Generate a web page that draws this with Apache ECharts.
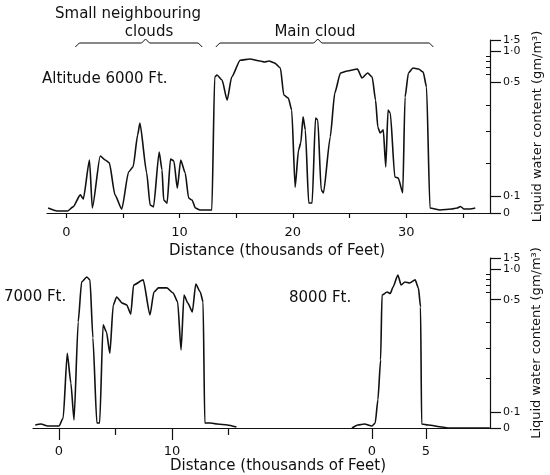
<!DOCTYPE html>
<html>
<head>
<meta charset="utf-8">
<title>Liquid water content</title>
<script src="https://cdn.jsdelivr.net/npm/echarts@6/dist/echarts.min.js"></script>
<style>
html, body { margin: 0; padding: 0; background: #fff; }
#main { width: 550px; height: 475px; }
</style>
</head>
<body>
<div id="main"></div>
<script>
// distance in thousands of feet, liquid water content in gm/m3
let dist6000 = [-1.6, -0.8, 0.1, 0.6, 1.24, 1.5, 2.05, 2.3, 3.0, 3.44, 3.8, 4.3, 4.9, 5.5, 5.9, 6.3, 6.5, 7.1, 7.4, 7.7,
	8.2, 8.45, 8.6, 8.9, 9.2, 9.5, 9.8, 10.1, 10.5, 10.8, 11.1, 11.4, 11.8, 12.7, 12.85, 13.1, 13.3, 13.75, 14.2, 14.6,
	15.35, 16.2, 17.1, 17.5, 17.9, 18.4, 18.9, 19.2, 19.6, 19.9, 20.2, 20.5, 20.7, 20.9, 21.1, 21.4, 21.7, 22.0, 22.2, 22.5,
	22.7, 23.3, 23.7, 24.2, 24.8, 25.7, 26.1, 26.6, 27.0, 27.3, 27.5, 27.7, 27.98, 28.2, 28.4, 28.6, 29.0, 29.3, 29.7, 29.9,
	30.2, 30.6, 31.1, 31.5, 31.8, 32.1, 33.0, 34.0, 34.5, 34.8, 35.1, 35.6, 36.1];
let lwc6000 = [0.03, 0.012, 0.012, 0.037, 0.105, 0.085, 0.209, 0.03, 0.222, 0.209, 0.2, 0.105, 0.024, 0.173, 0.188, 0.289, 0.333, 0.17, 0.049, 0.037,
	0.235, 0.179, 0.079, 0.06, 0.212, 0.206, 0.125, 0.209, 0.17, 0.091, 0.079, 0.03, 0.018, 0.018, 0.018, 0.569, 0.595, 0.53, 0.424, 0.569,
	0.826, 0.85, 0.813, 0.795, 0.813, 0.776, 0.695, 0.446, 0.433, 0.383, 0.128, 0.241, 0.264, 0.357, 0.307, 0.061, 0.061, 0.353, 0.345, 0.12,
	0.111, 0.283, 0.455, 0.623, 0.652, 0.68, 0.556, 0.623, 0.569, 0.424, 0.318, 0.296, 0.307, 0.188, 0.383, 0.372, 0.158, 0.155, 0.111, 0.437,
	0.623, 0.695, 0.68, 0.638, 0.48, 0.03, 0.018, 0.024, 0.03, 0.04, 0.024, 0.024, 0.03];

let dist7000 = [-2.1, -1.6, -1.0, 0.0, 0.37, 0.73, 1.05, 1.33, 1.7, 2.0, 2.46, 2.74, 3.0, 3.35, 3.6, 3.9, 4.2, 4.5, 4.8, 5.1,
	5.6, 6.0, 6.35, 6.6, 7.45, 8.05, 8.4, 8.8, 9.55, 10.1, 10.5, 10.8, 11.06, 11.4, 11.8, 12.1, 12.5, 12.75, 12.9, 13.4,
	14.0, 14.9, 15.7];
let lwc7000 = [0.019, 0.025, 0.012, 0.012, 0.062, 0.283, 0.187, 0.05, 0.403, 0.754, 0.843, 0.789, 0.34, 0.031, 0.031, 0.391, 0.363, 0.283, 0.477, 0.535,
	0.485, 0.477, 0.437, 0.703, 0.789, 0.433, 0.6, 0.66, 0.66, 0.587, 0.49, 0.294, 0.56, 0.485, 0.446, 0.72, 0.6, 0.49, 0.031, 0.031,
	0.025, 0.019, 0.006];

let dist8000 = [-1.85, -1.3, -0.7, 0.0, 0.3, 0.55, 0.8, 0.93, 1.4, 1.7, 1.95, 2.4, 2.7, 3.05, 3.5, 4.0, 4.3, 4.5, 4.6, 5.2,
	6.5, 7.0, 10.9];
let lwc8000 = [0, 0.019, 0.025, 0.012, 0.031, 0.136, 0.261, 0.56, 0.6, 0.58, 0.673, 0.883, 0.703, 0.754, 0.737, 0.789, 0.66, 0.468, 0.025, 0.019,
	0.006, 0, 0];

// instrument scale: water content -> fraction of the scale height
let calLwc = [0, 0.1, 0.2, 0.3, 0.4, 0.5, 0.6, 0.7, 0.8, 0.9, 1.0, 1.5];
let calPos = [0, 0.095, 0.29, 0.47, 0.62, 0.755, 0.80, 0.84, 0.875, 0.905, 0.935, 1.0];

let majorLwc = [0, 0.1, 0.5, 1.0, 1.5];
let majorText = ['0', '0·1', '0·5', '1·0', '1·5'];
let minorLwc = [0.2, 0.3, 0.4, 0.6, 0.7, 0.8, 0.9];

let ink = '#111';
let font = 'DejaVu Sans';

function toScale(v) {
	for (let i = 1; i < calLwc.length; i++) {
		if (v <= calLwc[i]) {
			let t = (v - calLwc[i - 1]) / (calLwc[i] - calLwc[i - 1]);
			return calPos[i - 1] + t * (calPos[i] - calPos[i - 1]);
		}
	}
	return 1;
}

function pairs(d, w) {
	return d.map(function (x, i) { return [x, toScale(w[i])]; });
}

function lwcLabel(v) {
	for (let i = 0; i < majorLwc.length; i++) {
		if (Math.abs(toScale(majorLwc[i]) - v) < 1e-6) return majorText[i];
	}
	return '';
}

function lwcAxes(grid) {
	return [{
		gridIndex: grid, type: 'value', min: 0, max: 1, position: 'right',
		name: 'Liquid water content (gm/m³)', nameLocation: 'middle', nameRotate: 90, nameGap: 40,
		nameTextStyle: { color: ink, fontFamily: font, fontSize: 13 },
		axisLine: { show: true, onZero: false, lineStyle: { color: ink, width: 1.2 } },
		axisTick: { show: true, inside: false, length: 11, customValues: majorLwc.map(toScale), lineStyle: { color: ink, width: 1.2 } },
		axisLabel: { show: true, margin: 13, hideOverlap: false, customValues: majorLwc.map(toScale), formatter: lwcLabel,
			color: ink, fontFamily: font, fontSize: 11 },
		splitLine: { show: false }
	}, {
		gridIndex: grid, type: 'value', min: 0, max: 1, position: 'right',
		axisLine: { show: false, onZero: false },
		axisTick: { show: true, inside: true, length: 4, customValues: minorLwc.map(toScale), lineStyle: { color: ink, width: 1 } },
		axisLabel: { show: false },
		splitLine: { show: false }
	}];
}

function distAxis(grid, min, max, labels, ticks, tickLen, gap, showLine) {
	return {
		gridIndex: grid, type: 'value', min: min, max: max, position: 'bottom',
		axisLine: { show: showLine, onZero: false, lineStyle: { color: ink, width: 1.2 } },
		axisTick: { show: true, length: tickLen, customValues: ticks, lineStyle: { color: ink, width: 1.2 } },
		axisLabel: { show: labels.length > 0, margin: gap, customValues: labels, color: ink, fontFamily: font, fontSize: 13 },
		splitLine: { show: false }
	};
}

function trace(xi, yi, data) {
	return {
		type: 'line', xAxisIndex: xi, yAxisIndex: yi, data: data,
		showSymbol: false, smooth: 0.2, smoothMonotone: 'x',
		lineStyle: { color: ink, width: 1.6 }
	};
}

function txt(s, x, y, align) {
	return { type: 'text', style: { text: s, x: x, y: y, fill: ink, font: '15px "' + font + '"',
		textAlign: align || 'left', textVerticalAlign: 'middle' } };
}

let chart = echarts.init(document.getElementById('main'));

let option = {
	animation: false,
	backgroundColor: '#fff',
	grid: [
		{ left: 47, right: 60, top: 40, height: 173, outerBoundsMode: 'none' },
		{ left: 33, width: 257, top: 258, height: 170, outerBoundsMode: 'none' },
		{ left: 290, width: 200, top: 258, height: 170, outerBoundsMode: 'none' }
	],
	xAxis: [
		distAxis(0, -1.7, 37.4, [0, 10, 20, 30], [0, 5, 10, 15, 20, 25, 30, 35], 5, 13, true),
		distAxis(1, -2.3, 20.44, [0, 10], [0, 10], 12, 17, true),
		distAxis(1, -2.3, 20.44, [], [5, 15], 7, 12, false),
		distAxis(2, -7.59, 10.93, [0, 5], [0, 5], 11, 17, true)
	],
	yAxis: lwcAxes(0).concat([
		{ gridIndex: 1, type: 'value', min: 0, max: 1, show: false }
	]).concat(lwcAxes(2)),
	series: [
		trace(0, 0, pairs(dist6000, lwc6000)),
		trace(1, 2, pairs(dist7000, lwc7000)),
		trace(3, 3, pairs(dist8000, lwc8000))
	]
};
chart.setOption(option);

// braces over the top trace, placed on the distance scale
function brace(x0, xm, x1, y) {
	let a = chart.convertToPixel({ xAxisIndex: 0 }, x0);
	let m = chart.convertToPixel({ xAxisIndex: 0 }, xm);
	let b = chart.convertToPixel({ xAxisIndex: 0 }, x1);
	return { type: 'polyline', shape: { points: [[a, y + 4], [a + 4, y], [m - 4, y], [m, y - 4], [m + 4, y], [b - 4, y], [b, y + 4]] },
		style: { stroke: ink, lineWidth: 1, fill: null } };
}

chart.setOption({
	graphic: [
		txt('Small neighbouring', 128, 14, 'center'),
		txt('clouds', 149, 32, 'center'),
		txt('Main cloud', 315, 32, 'center'),
		brace(0.8, 7.0, 12.0, 43),
		brace(13.2, 22.2, 32.4, 43),
		txt('Altitude 6000 Ft.', 42, 79),
		txt('Distance (thousands of Feet)', 277, 251, 'center'),
		txt('7000 Ft.', 4, 297),
		txt('8000 Ft.', 289, 298),
		txt('Distance (thousands of Feet)', 278, 466, 'center')
	]
});
</script>
</body>
</html>
